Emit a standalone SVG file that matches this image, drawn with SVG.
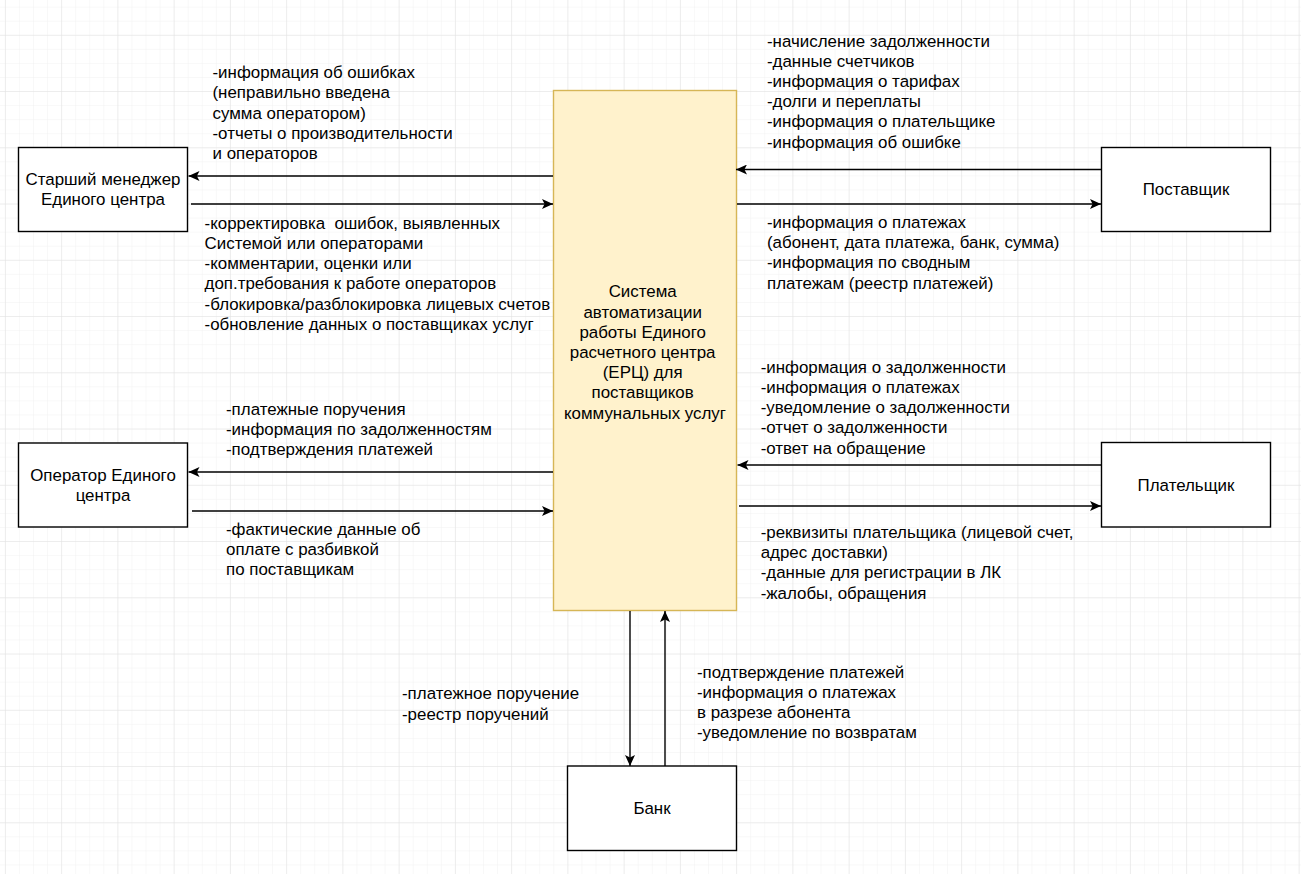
<svg xmlns="http://www.w3.org/2000/svg" width="1301" height="874" viewBox="0 0 1301 874">
<defs>
<pattern id="gMinor" patternUnits="userSpaceOnUse" x="4.9" y="34.8" width="14.0625" height="14.0625">
<path d="M0,0 L0,14.0625 M0,0 L14.0625,0" fill="none" stroke="#f1f1f1" stroke-width="1"/>
</pattern>
<pattern id="gMajor" patternUnits="userSpaceOnUse" x="4.9" y="34.8" width="56.25" height="56.25">
<path d="M0,0 L0,56.25 M0,0 L56.25,0" fill="none" stroke="#e2e2e2" stroke-width="1"/>
</pattern>
<marker id="arr" markerUnits="userSpaceOnUse" viewBox="0 0 11 10" refX="11" refY="5" markerWidth="11" markerHeight="10" orient="auto">
<path d="M0,0 L11,5 L0,10 L2.6,5 Z" fill="#000"/>
</marker>
</defs>
<style>
.box{fill:#fff;stroke:#000;stroke-width:1.4}
.main{fill:#fff2cc;stroke:#d6b656;stroke-width:1.4}
.t{font-family:"Liberation Sans",Arial,sans-serif;font-size:16.9px;fill:#000}
.c{text-anchor:middle}
.e{fill:none;stroke:#000;stroke-width:1.4;marker-end:url(#arr)}
</style>
<rect width="1301" height="874" fill="#fff"/>
<rect width="1301" height="874" fill="url(#gMinor)"/>
<rect width="1301" height="874" fill="url(#gMajor)"/>

<g id="erc">
<rect class="main" x="553.5" y="90.5" width="183" height="520"/>
<text class="t c" x="645" y="297.3">
<tspan x="645">Система</tspan>
<tspan x="645" dy="20.2">автоматизации</tspan>
<tspan x="645" dy="20.2">работы Единого</tspan>
<tspan x="645" dy="20.2">расчетного центра</tspan>
<tspan x="645" dy="20.2">(ЕРЦ) для</tspan>
<tspan x="645" dy="20.2">поставщиков</tspan>
<tspan x="645" dy="20.2">коммунальных услуг</tspan>
</text>
</g>

<g id="manager">
<rect class="box" x="18.5" y="147.5" width="169" height="84"/>
<text class="t c" x="103" y="185"><tspan x="103">Старший менеджер</tspan><tspan x="103" dy="20.2">Единого центра</tspan></text>
</g>

<g id="operator">
<rect class="box" x="18.5" y="443" width="169" height="84"/>
<text class="t c" x="103" y="481"><tspan x="103">Оператор Единого</tspan><tspan x="103" dy="20.2">центра</tspan></text>
</g>

<g id="supplier">
<rect class="box" x="1101.5" y="147.5" width="169" height="84"/>
<text class="t c" x="1186" y="195">Поставщик</text>
</g>

<g id="payer">
<rect class="box" x="1101.5" y="442.5" width="169" height="84.5"/>
<text class="t c" x="1186" y="490.5">Плательщик</text>
</g>

<g id="bank">
<rect class="box" x="567.5" y="766" width="169" height="84.5"/>
<text class="t c" x="652" y="814">Банк</text>
</g>

<g id="connectors">
<path class="e" d="M553,176 L188.5,176"/>
<path class="e" d="M191,204 L553,204"/>
<path class="e" d="M1101,169.5 L736,169.5"/>
<path class="e" d="M737,204 L1101,204"/>
<path class="e" d="M1101,465 L737.5,465"/>
<path class="e" d="M739,506 L1101,506"/>
<path class="e" d="M553,472 L188.5,472"/>
<path class="e" d="M192,511 L553,511"/>
<path class="e" d="M630,611 L630,766"/>
<path class="e" d="M665,766 L665,611"/>
</g>

<g id="labels">
<text class="t" x="212.5" y="78.2">
<tspan x="212.5">-информация об ошибках</tspan>
<tspan x="212.5" dy="20.2">(неправильно введена</tspan>
<tspan x="212.5" dy="20.2">сумма оператором)</tspan>
<tspan x="212.5" dy="20.2">-отчеты о производительности</tspan>
<tspan x="212.5" dy="20.2">и операторов</tspan>
</text>
<text class="t" x="204.6" y="228.8" xml:space="preserve"><tspan x="204.6">-корректировка  ошибок, выявленных</tspan><tspan x="204.6" dy="20.2">Системой или операторами</tspan><tspan x="204.6" dy="20.2">-комментарии, оценки или</tspan><tspan x="204.6" dy="20.2">доп.требования к работе операторов</tspan><tspan x="204.6" dy="20.2">-блокировка/разблокировка лицевых счетов</tspan><tspan x="204.6" dy="20.2">-обновление данных о поставщиках услуг</tspan></text>
<text class="t" x="767" y="46.5">
<tspan x="767">-начисление задолженности</tspan>
<tspan x="767" dy="20.2">-данные счетчиков</tspan>
<tspan x="767" dy="20.2">-информация о тарифах</tspan>
<tspan x="767" dy="20.2">-долги и переплаты</tspan>
<tspan x="767" dy="20.2">-информация о плательщике</tspan>
<tspan x="767" dy="20.2">-информация об ошибке</tspan>
</text>
<text class="t" x="767" y="228">
<tspan x="767">-информация о платежах</tspan>
<tspan x="767" dy="20.2">(абонент, дата платежа, банк, сумма)</tspan>
<tspan x="767" dy="20.2">-информация по сводным</tspan>
<tspan x="767" dy="20.2">платежам (реестр платежей)</tspan>
</text>
<text class="t" x="760.7" y="372.8">
<tspan x="760.7">-информация о задолженности</tspan>
<tspan x="760.7" dy="20.2">-информация о платежах</tspan>
<tspan x="760.7" dy="20.2">-уведомление о задолженности</tspan>
<tspan x="760.7" dy="20.2">-отчет о задолженности</tspan>
<tspan x="760.7" dy="20.2">-ответ на обращение</tspan>
</text>
<text class="t" x="760.7" y="538">
<tspan x="760.7">-реквизиты плательщика (лицевой счет,</tspan>
<tspan x="760.7" dy="20.2">адрес доставки)</tspan>
<tspan x="760.7" dy="20.2">-данные для регистрации в ЛК</tspan>
<tspan x="760.7" dy="20.2">-жалобы, обращения</tspan>
</text>
<text class="t" x="226" y="414.5">
<tspan x="226">-платежные поручения</tspan>
<tspan x="226" dy="20.2">-информация по задолженностям</tspan>
<tspan x="226" dy="20.2">-подтверждения платежей</tspan>
</text>
<text class="t" x="226" y="534.5">
<tspan x="226">-фактические данные об</tspan>
<tspan x="226" dy="20.2">оплате с разбивкой</tspan>
<tspan x="226" dy="20.2">по поставщикам</tspan>
</text>
<text class="t" x="402" y="699.3">
<tspan x="402">-платежное поручение</tspan>
<tspan x="402" dy="20.2">-реестр поручений</tspan>
</text>
<text class="t" x="697" y="677.8">
<tspan x="697">-подтверждение платежей</tspan>
<tspan x="697" dy="20.2">-информация о платежах</tspan>
<tspan x="697" dy="20.2">в разрезе абонента</tspan>
<tspan x="697" dy="20.2">-уведомление по возвратам</tspan>
</text>
</g>
</svg>
